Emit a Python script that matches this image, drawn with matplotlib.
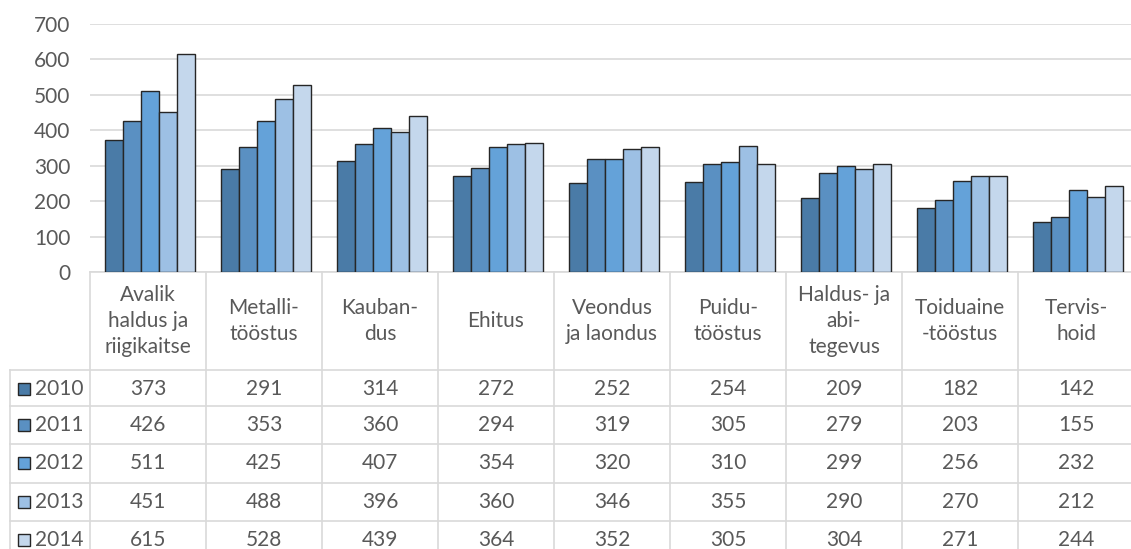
import matplotlib
matplotlib.use("Agg")
import matplotlib.pyplot as plt
from matplotlib.transforms import blended_transform_factory
from matplotlib.patches import Rectangle

categories = ["Avalik\nhaldus ja\nriigikaitse", "Metalli-\ntööstus", "Kauban-\ndus", "Ehitus",
              "Veondus\nja laondus", "Puidu-\ntööstus", "Haldus- ja\nabi-\ntegevus",
              "Toiduaine\n-tööstus", "Tervis-\nhoid"]
years = ["2010", "2011", "2012", "2013", "2014"]
v2010 = [373, 291, 314, 272, 252, 254, 209, 182, 142]
v2011 = [426, 353, 360, 294, 319, 305, 279, 203, 155]
v2012 = [511, 425, 407, 354, 320, 310, 299, 256, 232]
v2013 = [451, 488, 396, 360, 346, 355, 290, 270, 212]
v2014 = [615, 528, 439, 364, 352, 305, 304, 271, 244]
series = [v2010, v2011, v2012, v2013, v2014]
colors = ["#4A7BA7", "#5A90C2", "#64A2D9", "#9DC0E4", "#C4D7EC"]

plt.rcParams['font.family'] = ['Lato', 'DejaVu Sans']
txt = "#595959"
grid = "#D9D9D9"
fs = 15

W, H = 1131, 549
fig = plt.figure(figsize=(W / 100, H / 100), dpi=100)
# plot area in pixels: left 90, top 24, bottom 272, column width 116
left, top, bottom, colw = 90, 24, 272, 116
ax = fig.add_axes([left / W, (H - bottom) / H, 9 * colw / W, (bottom - top) / H])

bw = 0.155
for i, vals in enumerate(series):
    xs = [c + (i - 2) * bw + 0.02 for c in range(len(categories))]
    ax.bar(xs, vals, width=bw, color=colors[i], edgecolor="#262626", linewidth=1.0, zorder=3)

ax.set_xlim(-0.5, 8.5)
ax.set_ylim(0, 700)
ax.set_yticks(range(0, 701, 100))
ax.set_xticks([])
ax.yaxis.grid(True, color=grid, linewidth=1.2, zorder=0)
for s in ax.spines.values():
    s.set_visible(False)
ax.tick_params(axis='y', length=0, labelsize=fs, labelcolor=txt, pad=14)

# data table below the axes
tr = blended_transform_factory(ax.transData, ax.transAxes)
def ay(py):
    return (bottom - py) / (bottom - top)

row_top = [370, 406, 444, 483, 521]
row_h = 38.3
header_bot = 370
for c, lab in enumerate(categories):
    ax.text(c, ay(321), lab, transform=tr, ha='center', va='center', fontsize=fs,
            color=txt, linespacing=1.35, clip_on=False)
    for r, vals in enumerate(series):
        ax.text(c, ay(row_top[r] + row_h / 2), str(vals[c]), transform=tr, ha='center',
                va='center', fontsize=fs, color=txt, clip_on=False)

# vertical lines of the table
for c in range(10):
    ax.plot([c - 0.5, c - 0.5], [ay(bottom), ay(H + 20)], transform=tr, color=grid,
            linewidth=1.2, clip_on=False)
ax.plot([-0.5, 8.5], [ay(bottom), ay(bottom)], transform=tr, color=grid, linewidth=1.2,
        clip_on=False)

# horizontal lines and legend column in figure pixel coordinates
ftr = fig.transFigure
def fx(px):
    return px / W
def fy(py):
    return (H - py) / H

leg_left = 10
for r in range(len(years)):
    y0 = row_top[r]
    fig.add_artist(plt.Line2D([fx(leg_left), fx(W + 20)], [fy(y0), fy(y0)], color=grid,
                              linewidth=1.2, transform=ftr))
fig.add_artist(plt.Line2D([fx(leg_left), fx(leg_left)], [fy(header_bot), fy(H + 20)],
                          color=grid, linewidth=1.2, transform=ftr))
for r, yr in enumerate(years):
    yc = row_top[r] + row_h / 2
    fig.add_artist(Rectangle((fx(18), fy(yc + 6)), 12 / W, 12 / H, facecolor=colors[r],
                             edgecolor="#262626", linewidth=1.0, transform=ftr))
    fig.text(fx(35), fy(yc), yr, ha='left', va='center', fontsize=fs, color=txt)

fig.savefig("out.png", dpi=100)
